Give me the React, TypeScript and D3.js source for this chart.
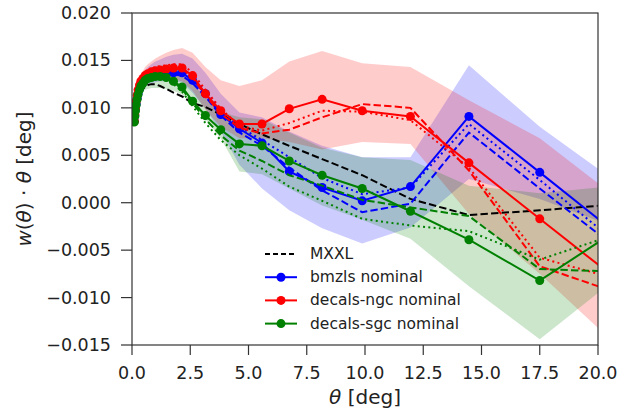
import * as d3 from 'd3';

// angular bins [deg]
const theta = [0.10, 0.12, 0.15, 0.18, 0.22, 0.26, 0.32, 0.38, 0.47, 0.56, 0.68, 0.83, 1.00, 1.21, 1.47, 1.78, 2.15, 2.60, 3.15, 3.81, 4.61, 5.58, 6.75, 8.16, 9.88, 11.95, 14.46, 17.50, 21.18];

// w(theta) * theta
const mxxl = [0.0083, 0.0088, 0.0094, 0.0099, 0.0104, 0.0109, 0.0113, 0.0117, 0.0120, 0.0122, 0.0124, 0.0125, 0.0125, 0.0123, 0.0120, 0.0116, 0.0112, 0.0105, 0.0101, 0.0093, 0.0083, 0.0072, 0.0060, 0.0046, 0.0029, 0.0004, -0.0013, -0.0008, -0.0001];

const bmzls = [0.0086, 0.0092, 0.0098, 0.0104, 0.0110, 0.0115, 0.0120, 0.0124, 0.0127, 0.0130, 0.0132, 0.0134, 0.0135, 0.0136, 0.0137, 0.0137, 0.0137, 0.0129, 0.0115, 0.0093, 0.0078, 0.0063, 0.0033, 0.0016, 0.0002, 0.0017, 0.0091, 0.0032, -0.0040];
const bmzlsDash = [0.0086, 0.0092, 0.0098, 0.0104, 0.0110, 0.0115, 0.0120, 0.0124, 0.0127, 0.0130, 0.0132, 0.0133, 0.0134, 0.0135, 0.0135, 0.0135, 0.0134, 0.0126, 0.0112, 0.0092, 0.0074, 0.0060, 0.0037, 0.0013, -0.0010, -0.0001, 0.0074, 0.0015, -0.0055];
const bmzlsDot = [0.0086, 0.0092, 0.0098, 0.0104, 0.0110, 0.0115, 0.0120, 0.0124, 0.0128, 0.0131, 0.0133, 0.0135, 0.0136, 0.0137, 0.0138, 0.0138, 0.0138, 0.0131, 0.0118, 0.0097, 0.0080, 0.0066, 0.0048, 0.0026, 0.0009, 0.0016, 0.0083, 0.0024, -0.0050];
const bmzlsLo = [0.0083, 0.0088, 0.0094, 0.0099, 0.0104, 0.0109, 0.0113, 0.0117, 0.0120, 0.0123, 0.0125, 0.0126, 0.0127, 0.0128, 0.0128, 0.0128, 0.0127, 0.0116, 0.0099, 0.0075, 0.0040, 0.0015, -0.0008, -0.0027, -0.0043, -0.0026, 0.0025, 0.0004, -0.0030];
const bmzlsHi = [0.0089, 0.0096, 0.0102, 0.0109, 0.0116, 0.0121, 0.0127, 0.0132, 0.0136, 0.0140, 0.0143, 0.0146, 0.0149, 0.0151, 0.0154, 0.0156, 0.0157, 0.0152, 0.0137, 0.0115, 0.0095, 0.0090, 0.0075, 0.0060, 0.0048, 0.0048, 0.0145, 0.0080, 0.0015];

const ngc = [0.0086, 0.0093, 0.0100, 0.0107, 0.0113, 0.0119, 0.0124, 0.0128, 0.0131, 0.0134, 0.0136, 0.0138, 0.0139, 0.0140, 0.0141, 0.0142, 0.0142, 0.0134, 0.0115, 0.0097, 0.0083, 0.0083, 0.0099, 0.0109, 0.0097, 0.0091, 0.0042, -0.0017, -0.0088];
const ngcDash = [0.0086, 0.0092, 0.0099, 0.0106, 0.0112, 0.0118, 0.0123, 0.0127, 0.0130, 0.0133, 0.0135, 0.0137, 0.0138, 0.0139, 0.0140, 0.0141, 0.0141, 0.0132, 0.0113, 0.0094, 0.0079, 0.0073, 0.0077, 0.0090, 0.0104, 0.0100, 0.0034, -0.0067, -0.0098];
const ngcDot = [0.0087, 0.0094, 0.0101, 0.0108, 0.0115, 0.0121, 0.0126, 0.0130, 0.0134, 0.0137, 0.0139, 0.0141, 0.0143, 0.0144, 0.0145, 0.0146, 0.0146, 0.0137, 0.0119, 0.0099, 0.0081, 0.0076, 0.0084, 0.0097, 0.0096, 0.0087, 0.0037, -0.0058, -0.0083];
const ngcLo = [0.0083, 0.0089, 0.0096, 0.0102, 0.0108, 0.0113, 0.0118, 0.0121, 0.0124, 0.0126, 0.0128, 0.0129, 0.0130, 0.0130, 0.0130, 0.0130, 0.0128, 0.0118, 0.0098, 0.0080, 0.0068, 0.0068, 0.0064, 0.0056, 0.0064, 0.0062, -0.0012, -0.0075, -0.0159];
const ngcHi = [0.0089, 0.0097, 0.0104, 0.0112, 0.0118, 0.0124, 0.0130, 0.0135, 0.0139, 0.0143, 0.0146, 0.0149, 0.0152, 0.0155, 0.0158, 0.0161, 0.0163, 0.0158, 0.0143, 0.0129, 0.0123, 0.0129, 0.0149, 0.0160, 0.0147, 0.0143, 0.0108, 0.0068, -0.0002];

const sgc = [0.0085, 0.0091, 0.0097, 0.0103, 0.0109, 0.0114, 0.0119, 0.0123, 0.0126, 0.0129, 0.0131, 0.0132, 0.0133, 0.0133, 0.0132, 0.0128, 0.0122, 0.0107, 0.0092, 0.0077, 0.0062, 0.0060, 0.0044, 0.0029, 0.0015, -0.0009, -0.0039, -0.0082, -0.0023];
const sgcDash = [0.0085, 0.0091, 0.0097, 0.0103, 0.0109, 0.0114, 0.0119, 0.0123, 0.0126, 0.0129, 0.0131, 0.0132, 0.0133, 0.0132, 0.0131, 0.0127, 0.0120, 0.0105, 0.0088, 0.0071, 0.0055, 0.0044, 0.0029, 0.0018, 0.0003, -0.0005, -0.0014, -0.0070, -0.0073];
const sgcDot = [0.0085, 0.0091, 0.0097, 0.0103, 0.0109, 0.0114, 0.0119, 0.0123, 0.0126, 0.0128, 0.0130, 0.0131, 0.0131, 0.0131, 0.0129, 0.0125, 0.0117, 0.0102, 0.0084, 0.0066, 0.0050, 0.0036, 0.0017, 0.0002, -0.0017, -0.0024, -0.0030, -0.0060, -0.0030];
const sgcLo = [0.0082, 0.0087, 0.0093, 0.0098, 0.0104, 0.0108, 0.0112, 0.0115, 0.0117, 0.0119, 0.0120, 0.0121, 0.0121, 0.0121, 0.0120, 0.0118, 0.0114, 0.0104, 0.0088, 0.0068, 0.0033, 0.0030, 0.0015, -0.0003, -0.0018, -0.0038, -0.0088, -0.0144, -0.0072];
const sgcHi = [0.0088, 0.0095, 0.0101, 0.0108, 0.0114, 0.0120, 0.0126, 0.0131, 0.0135, 0.0138, 0.0140, 0.0142, 0.0143, 0.0144, 0.0145, 0.0144, 0.0140, 0.0126, 0.0110, 0.0096, 0.0090, 0.0088, 0.0074, 0.0058, 0.0048, 0.0045, 0.0018, 0.0010, 0.0019];

const xTicks = [0, 2.5, 5, 7.5, 10, 12.5, 15, 17.5, 20];
const xTickLabels = ['0.0', '2.5', '5.0', '7.5', '10.0', '12.5', '15.0', '17.5', '20.0'];
const yTicks = [-0.015, -0.01, -0.005, 0, 0.005, 0.01, 0.015, 0.02];
const yTickLabels = ['\u22120.015', '\u22120.010', '\u22120.005', '0.000', '0.005', '0.010', '0.015', '0.020'];

const samples = [
  { name: 'bmzls nominal', color: 'blue', fill: 'rgba(0,0,255,0.2)', nominal: bmzls, dash: bmzlsDash, dot: bmzlsDot, lo: bmzlsLo, hi: bmzlsHi },
  { name: 'decals-ngc nominal', color: 'red', fill: 'rgba(255,0,0,0.2)', nominal: ngc, dash: ngcDash, dot: ngcDot, lo: ngcLo, hi: ngcHi },
  { name: 'decals-sgc nominal', color: 'green', fill: 'rgba(0,128,0,0.2)', nominal: sgc, dash: sgcDash, dot: sgcDot, lo: sgcLo, hi: sgcHi },
];

export default function App() {
  const width = 634;
  const height = 413;
  const left = 132, right = 598, top = 13, bottom = 345;
  const font = 'DejaVu Sans, sans-serif';

  const x = d3.scaleLinear().domain([0, 20]).range([left, right]);
  const y = d3.scaleLinear().domain([-0.015, 0.02]).range([bottom, top]);

  const line = (vals: number[]) =>
    d3.line<number>().x((_, i) => x(theta[i])).y(d => y(d))(vals) || '';
  const band = (lo: number[], hi: number[]) =>
    d3.area<number>().x((_, i) => x(theta[i])).y0((_, i) => y(lo[i])).y1((_, i) => y(hi[i]))(theta) || '';

  const dashed = '7.4,3.2';
  const dotted = '2,3.3';

  const legendRows = [
    { name: 'MXXL', color: 'black', dash: '5,3', marker: false },
    ...samples.map(s => ({ name: s.name, color: s.color, dash: undefined as string | undefined, marker: true })),
  ];

  return (
    <svg width={width} height={height} style={{ position: 'absolute', left: 0, top: 0, background: 'white' }}>
      <defs>
        <clipPath id="plot">
          <rect x={left} y={top} width={right - left} height={bottom - top} />
        </clipPath>
      </defs>

      <g clipPath="url(#plot)">
        {/* shaded bands */}
        {samples.map(s => (
          <path key={s.name + '-band'} d={band(s.lo, s.hi)} fill={s.fill} stroke="none" />
        ))}
        {/* MXXL */}
        <path d={line(mxxl)} fill="none" stroke="black" strokeWidth={2} strokeDasharray={dashed} />
        {samples.map(s => (
          <g key={s.name}>
            <path d={line(s.dash)} fill="none" stroke={s.color} strokeWidth={2} strokeDasharray={dashed} />
            <path d={line(s.dot)} fill="none" stroke={s.color} strokeWidth={2} strokeDasharray={dotted} />
            <path d={line(s.nominal)} fill="none" stroke={s.color} strokeWidth={2} />
            {s.nominal.map((v, i) => (
              <circle key={i} cx={x(theta[i])} cy={y(v)} r={4.5} fill={s.color} />
            ))}
          </g>
        ))}
      </g>

      {/* frame */}
      <rect x={left} y={top} width={right - left} height={bottom - top} fill="none" stroke="#333" strokeWidth={1.2} />

      {/* x axis */}
      {xTicks.map((t, i) => (
        <g key={'x' + i}>
          <line x1={x(t)} x2={x(t)} y1={bottom} y2={bottom + 10} stroke="#333" strokeWidth={1.2} />
          <text x={x(t)} y={bottom + 34} textAnchor="middle" fontFamily={font} fontSize={17.5} fill="#222">
            {xTickLabels[i]}
          </text>
        </g>
      ))}
      <text x={(left + right) / 2} y={404} textAnchor="middle" fontFamily={font} fontSize={20} fill="#222">
        <tspan fontStyle="italic">θ</tspan> [deg]
      </text>

      {/* y axis */}
      {yTicks.map((t, i) => (
        <g key={'y' + i}>
          <line x1={left - 11} x2={left} y1={y(t)} y2={y(t)} stroke="#333" strokeWidth={1.2} />
          <text x={left - 21} y={y(t)} textAnchor="end" dominantBaseline="central" fontFamily={font} fontSize={17.5} fill="#222">
            {yTickLabels[i]}
          </text>
        </g>
      ))}
      <text
        transform={`translate(31,${(top + bottom) / 2}) rotate(-90)`}
        textAnchor="middle"
        fontFamily={font}
        fontSize={20}
        fill="#222"
      >
        <tspan fontStyle="italic">w</tspan>(<tspan fontStyle="italic">θ</tspan>) · <tspan fontStyle="italic">θ</tspan> [deg]
      </text>

      {/* legend */}
      {legendRows.map((r, i) => {
        const ly = 254 + i * 23.2;
        return (
          <g key={'leg' + i}>
            <line x1={265} x2={297} y1={ly} y2={ly} stroke={r.color} strokeWidth={2} strokeDasharray={r.dash} />
            {r.marker && <circle cx={281} cy={ly} r={4.5} fill={r.color} />}
            <text x={310} y={ly} dominantBaseline="central" fontFamily={font} fontSize={15.5} fill="#222">
              {r.name}
            </text>
          </g>
        );
      })}
    </svg>
  );
}
